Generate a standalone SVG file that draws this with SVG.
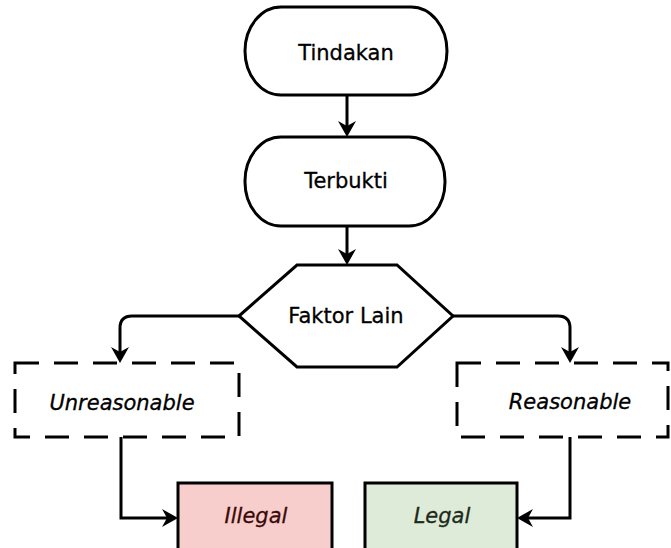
<svg xmlns="http://www.w3.org/2000/svg" width="671" height="548" viewBox="0 0 671 548">
  <style>
    .shape { fill: #ffffff; stroke: #000000; stroke-width: 3; }
    .dashed { fill: #ffffff; stroke: #000000; stroke-width: 3; stroke-dasharray: 24 15; }
    .lbl { font-family: "DejaVu Sans", "Liberation Sans", sans-serif; font-size: 21px; fill: #000000; text-anchor: middle; stroke: #000000; stroke-width: 0.3; }
    .it { font-style: italic; }
    .conn { fill: none; stroke: #000000; stroke-width: 3; marker-end: url(#arrow); }
  </style>
  <defs>
    <marker id="arrow" markerUnits="userSpaceOnUse" markerWidth="17" markerHeight="20" viewBox="0 0 17 20" refX="9" refY="10" orient="auto">
      <path d="M0,1 L16,10 L0,19 L5,10 Z" fill="#000000"/>
    </marker>
  </defs>
  <rect width="671" height="548" fill="#ffffff"/>

  <g id="connectors">
    <path class="conn" d="M347,95 L347,130"/>
    <path class="conn" d="M347,226 L347,258"/>
    <path class="conn" d="M239,316 L132,316 Q120,316 120,328 L120,356"/>
    <path class="conn" d="M453,316 L558,316 Q570,316 570,328 L570,356"/>
    <path class="conn" d="M121,437 L121,518 L171,518"/>
    <path class="conn" d="M570,437 L570,518 L524,518"/>
  </g>

  <g id="node-tindakan">
    <rect class="shape" x="245" y="7" width="202" height="88" rx="36" ry="44"/>
    <text class="lbl" x="346" y="60">Tindakan</text>
  </g>

  <g id="node-terbukti">
    <rect class="shape" x="245" y="137" width="200" height="89" rx="36" ry="44"/>
    <text class="lbl" x="346" y="188">Terbukti</text>
  </g>

  <g id="node-faktor-lain">
    <polygon class="shape" points="239,316 297,265 397,265 453,316 397,367 297,367"/>
    <text class="lbl" x="346" y="323">Faktor Lain</text>
  </g>

  <g id="node-unreasonable">
    <rect class="dashed" x="15" y="363" width="224" height="74"/>
    <text class="lbl it" x="122" y="410">Unreasonable</text>
  </g>

  <g id="node-reasonable">
    <rect class="dashed" x="457" y="363" width="211" height="74"/>
    <text class="lbl it" x="570" y="409">Reasonable</text>
  </g>

  <g id="node-illegal">
    <rect x="178" y="483" width="154" height="72" fill="#f8cecc" stroke="#000000" stroke-width="3"/>
    <text class="lbl it" x="256" y="523" style="fill:#3a0a0a;stroke:#3a0a0a">Illegal</text>
  </g>

  <g id="node-legal">
    <rect x="365" y="483" width="152" height="72" fill="#deebd8" stroke="#000000" stroke-width="3"/>
    <text class="lbl it" x="442" y="523" style="fill:#1c2a18;stroke:#1c2a18">Legal</text>
  </g>
</svg>
